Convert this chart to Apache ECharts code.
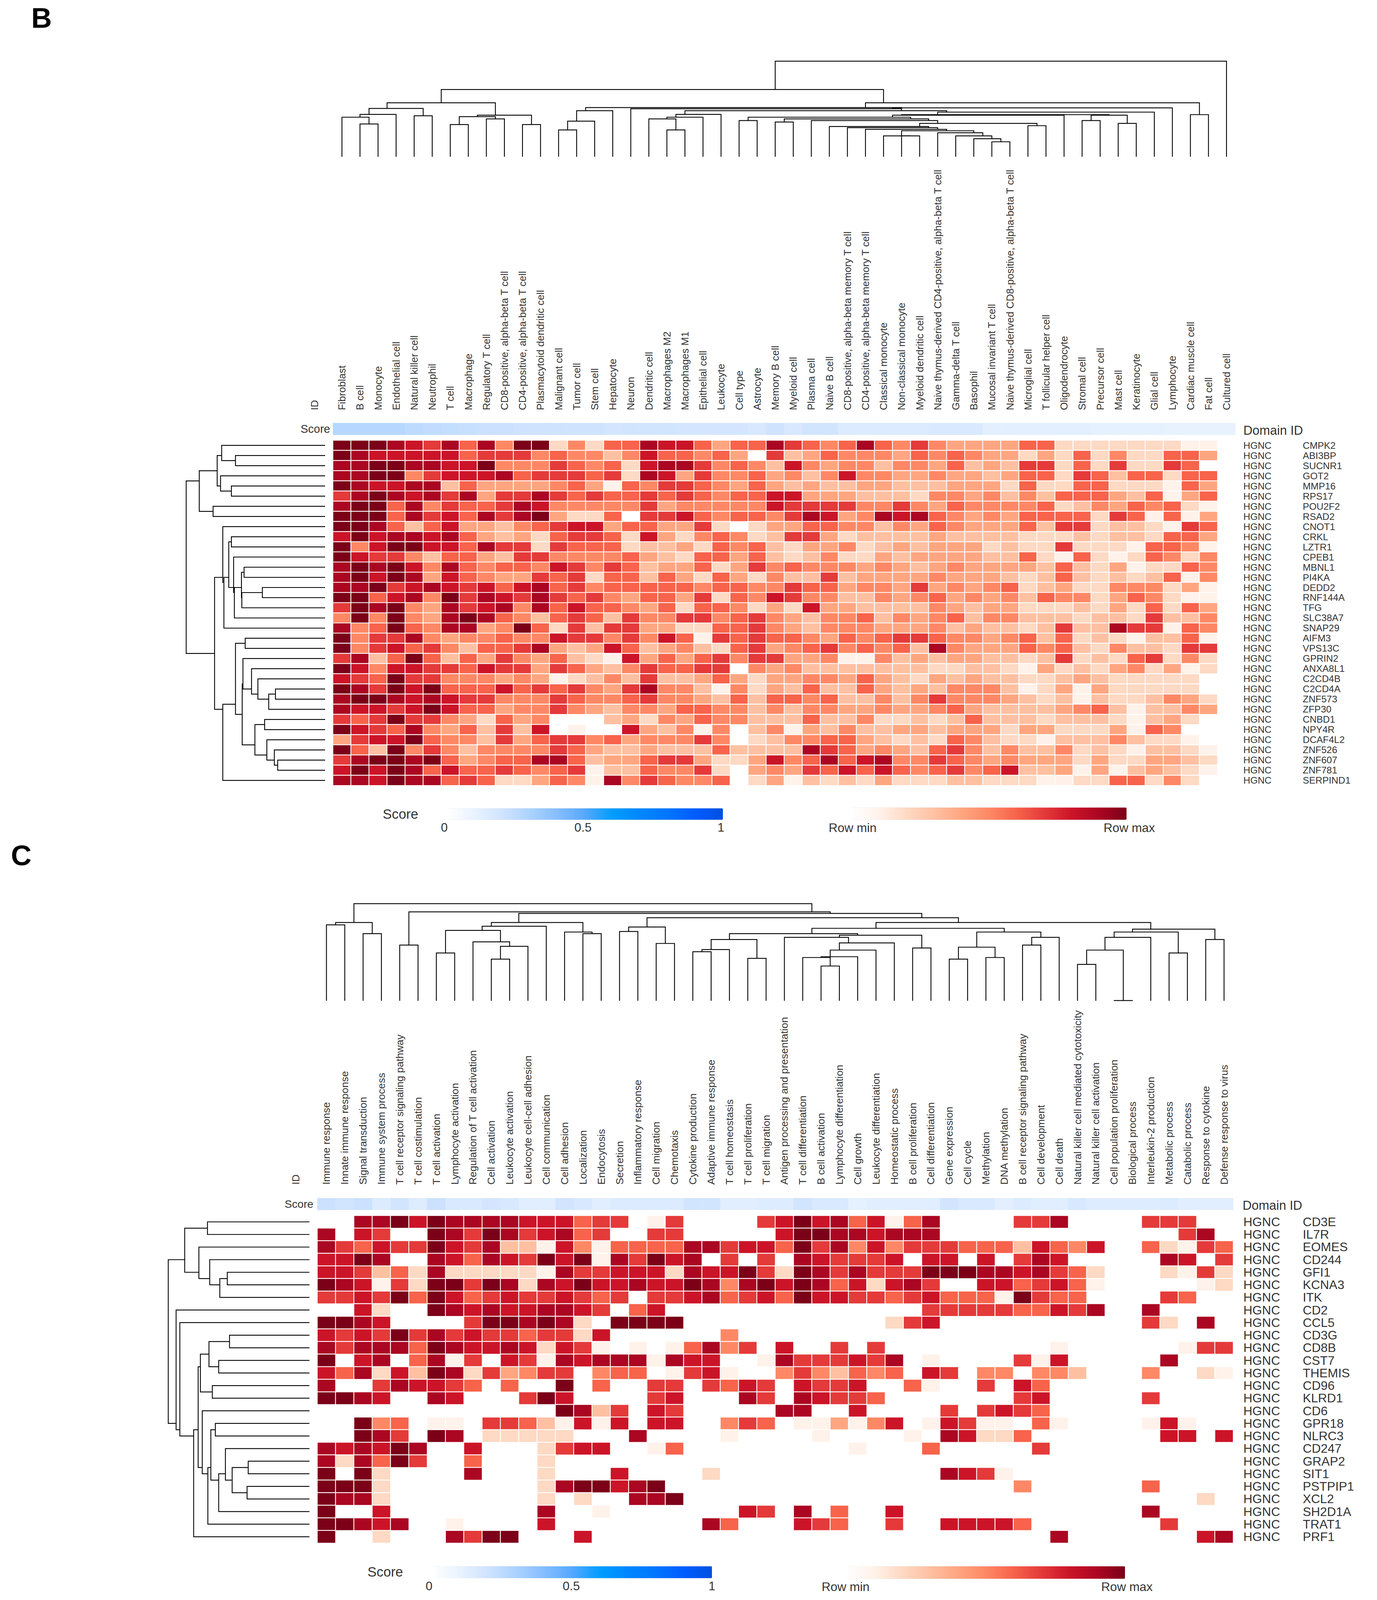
<!DOCTYPE html>
<html>
<head>
<meta charset="utf-8">
<title>Clustered heatmaps B and C</title>
<script src="https://cdn.jsdelivr.net/npm/echarts@6/dist/echarts.min.js"></script>
<style>
  html, body { margin: 0; padding: 0; background: #fff; overflow: hidden; }
  #chart { width: 3524px; height: 5960px; }
</style>
</head>
<body>
<div id="chart"></div>
<script>
// panel B labels
const columnsB = ["Fibroblast", "B cell", "Monocyte", "Endothelial cell", "Natural killer cell", "Neutrophil", "T cell", "Macrophage", "Regulatory T cell", "CD8-positive, alpha-beta T cell", "CD4-positive, alpha-beta T cell", "Plasmacytoid dendritic cell", "Malignant cell", "Tumor cell", "Stem cell", "Hepatocyte", "Neuron", "Dendritic cell", "Macrophages M2", "Macrophages M1", "Epithelial cell", "Leukocyte", "Cell type", "Astrocyte", "Memory B cell", "Myeloid cell", "Plasma cell", "Naive B cell", "CD8-positive, alpha-beta memory T cell", "CD4-positive, alpha-beta memory T cell", "Classical monocyte", "Non-classical monocyte", "Myeloid dendritic cell", "Naive thymus-derived CD4-positive, alpha-beta T cell", "Gamma-delta T cell", "Basophil", "Mucosal invariant T cell", "Naive thymus-derived CD8-positive, alpha-beta T cell", "Microglial cell", "T follicular helper cell", "Oligodendrocyte", "Stromal cell", "Precursor cell", "Mast cell", "Keratinocyte", "Glial cell", "Lymphocyte", "Cardiac muscle cell", "Fat cell", "Cultured cell"];
const genesB = ["CMPK2", "ABI3BP", "SUCNR1", "GOT2", "MMP16", "RPS17", "POU2F2", "RSAD2", "CNOT1", "CRKL", "LZTR1", "CPEB1", "MBNL1", "PI4KA", "DEDD2", "RNF144A", "TFG", "SLC38A7", "SNAP29", "AIFM3", "VPS13C", "GPRIN2", "ANXA8L1", "C2CD4B", "C2CD4A", "ZNF573", "ZFP30", "CNBD1", "NPY4R", "DCAF4L2", "ZNF526", "ZNF607", "ZNF781", "SERPIND1"];
const scoresB = [.27,.27,.27,.27,.25,.24,.23,.22,.21,.21, .2,.2,.2,.2,.2,.18,.19,.19,.19,.18, .18,.18,.18,.17,.2,.165,.19,.19,.15,.15, .15,.15,.15,.16,.16,.16,.12,.12,.12,.12, .12,.12,.11,.11,.11,.11,.1,.1,.1,.1];

// panel B cells, colour level 0 (row min, blank) to 10 (row max), one list per gene
const valuesB = [
  [10,10,10,9,8,7,9,6,9,5,10,10,2,5,2,6,6,9,8,8,6,4,6, 6,9,7,6,5,6,9,6,5,7,5,4,4,4,4,6,6,2,2,2,2,2,2,2,1,1],
  [10,9,8,8,8,8,8,6,7,7,7,5,6,5,5,3,5,8,6,6,5,6,4, 0,7,3,4,6,5,5,5,4,6,5,6,5,4,4,2,4,2,6,2,5,2,2,6,6,4],
  [9,9,10,10,9,9,8,8,10,5,5,5,7,6,5,6,2,8,9,9,7,5,6, 5,3,8,5,4,5,5,3,5,5,4,6,3,4,3,7,7,2,6,2,7,2,2,7,6,0],
  [9,9,10,10,5,7,8,8,8,9,6,7,7,7,6,7,2,9,8,4,7,5,5, 6,4,5,3,5,8,5,5,4,4,5,4,4,3,4,6,6,2,7,6,3,6,6,2,6,6],
  [10,9,8,8,9,9,3,6,4,4,4,4,5,6,4,1,6,5,7,7,6,5,4, 6,4,3,4,3,3,4,4,3,3,3,4,4,4,2,6,2,2,6,6,2,2,2,1,6,4],
  [7,9,10,9,8,9,7,9,4,7,7,9,7,6,7,6,6,7,6,7,6,5,6, 6,8,8,4,4,4,3,3,3,2,5,5,4,5,3,5,3,6,6,6,4,3,6,1,4,6],
  [9,10,10,6,9,5,7,6,6,7,9,8,5,5,5,5,5,7,4,5,5,5,5, 5,8,7,7,7,7,5,5,7,5,4,6,5,5,5,5,6,2,3,5,4,6,5,6,2,1],
  [10,10,10,6,9,7,8,6,9,7,9,10,4,2,2,6,0,7,7,8,6,5,6, 6,5,7,9,8,4,5,9,8,9,6,5,4,5,4,6,6,6,6,2,7,6,1,6,1,4],
  [10,10,9,6,3,6,8,4,4,3,5,6,7,8,8,4,6,6,4,4,7,2,0, 2,4,4,6,6,5,5,3,5,4,6,5,4,4,4,6,3,7,7,2,3,3,2,1,7,6],
  [8,10,8,9,9,8,9,6,4,3,4,2,6,7,7,6,2,8,4,2,5,6,5, 2,3,7,7,4,2,3,3,3,3,4,3,3,3,3,2,2,2,3,2,3,3,2,6,6,4],
  [10,5,8,10,10,8,8,6,9,7,7,2,7,6,6,6,2,3,3,4,2,6,5, 6,3,2,4,4,5,2,3,4,3,4,4,4,2,3,2,2,7,2,2,2,1,6,6,5,1],
  [10,8,7,7,5,3,6,6,4,3,7,7,5,5,5,5,6,4,3,2,6,6,4, 6,3,2,3,5,2,2,4,3,4,4,4,4,3,3,6,2,1,6,2,1,2,6,5,2,5],
  [9,10,9,10,8,5,9,6,5,6,6,5,8,7,5,7,6,3,4,4,6,2,4, 7,5,6,5,5,5,4,5,4,3,4,5,4,4,4,4,3,6,3,2,4,1,2,2,6,5],
  [9,10,8,10,9,4,8,6,5,4,4,7,6,7,2,6,6,3,6,4,2,6,4, 2,5,3,3,7,3,4,4,4,4,5,4,4,4,3,2,3,6,3,2,3,2,3,6,1,5],
  [9,9,10,7,8,9,8,7,8,6,8,9,6,7,5,6,6,6,6,6,5,6,6, 5,5,7,6,6,4,5,5,4,7,4,5,4,5,6,2,3,4,2,2,5,5,5,2,4,1],
  [10,10,6,8,9,5,10,7,9,8,7,9,7,6,7,5,4,6,6,4,7,2,6, 5,8,7,5,5,3,3,5,4,5,6,4,5,4,5,3,6,5,5,2,4,6,5,2,1,1],
  [7,10,9,10,5,4,9,7,8,9,5,9,6,8,6,6,5,4,6,2,6,6,5, 2,4,2,8,4,4,3,3,3,3,5,4,3,4,4,2,2,2,3,2,4,2,6,2,6,4],
  [5,10,5,10,5,4,9,10,9,6,5,3,6,7,6,3,7,5,5,7,7,5,6, 7,5,4,3,5,5,6,3,5,4,5,6,3,5,5,3,3,3,2,3,3,2,7,3,3,5],
  [9,5,6,10,6,5,9,9,4,5,10,6,2,7,3,7,7,4,4,2,2,6,6, 7,5,4,3,5,5,5,4,4,4,5,3,4,3,3,2,3,7,3,3,9,7,7,1,6,5],
  [10,5,7,7,9,5,4,5,5,6,5,5,8,7,7,5,7,5,8,6,1,7,6, 7,6,6,5,4,6,5,6,7,7,6,5,5,4,5,6,3,6,2,3,2,1,3,3,6,1],
  [10,5,7,8,6,7,5,3,6,6,7,9,4,3,4,8,6,3,4,5,3,2,6, 7,4,5,6,7,5,6,5,6,3,9,5,4,4,4,6,5,6,3,2,5,3,3,2,7,7],
  [7,9,3,6,10,6,3,6,4,7,5,4,6,3,2,1,8,4,6,4,6,7,5, 7,7,4,4,5,1,1,5,3,4,3,4,4,3,3,2,3,7,2,3,2,6,7,2,5,2],
  [10,8,5,8,8,7,7,6,8,7,7,4,7,6,4,3,5,7,6,6,7,7,0, 5,4,5,3,3,3,3,3,3,3,2,2,3,3,2,1,4,2,3,2,4,5,2,4,1,2],
  [8,7,6,10,7,7,5,5,5,4,5,4,1,2,3,5,3,7,3,3,4,6,4, 2,4,4,5,5,4,6,4,3,2,4,3,4,3,3,2,2,3,4,3,2,2,2,2,2,0],
  [10,9,7,10,8,10,6,6,6,8,6,7,6,7,5,4,7,9,5,5,3,1,5, 2,4,3,6,3,3,6,4,3,4,3,5,5,5,3,1,2,4,1,4,2,2,2,2,2,0],
  [9,10,10,9,8,9,8,7,7,5,5,5,7,6,5,5,6,7,5,5,4,3,6, 3,6,6,5,6,3,3,5,3,5,7,5,5,5,4,3,2,3,1,3,2,2,3,5,4,2],
  [9,8,8,7,8,10,8,6,6,4,5,5,7,5,4,3,5,5,4,6,6,5,5, 3,5,3,5,5,4,4,5,4,4,5,6,4,3,3,3,3,4,5,6,3,1,3,3,5,4],
  [7,6,7,10,7,7,5,4,2,6,4,5,0,0,0,3,4,2,5,4,6,5,5, 3,3,3,6,3,3,5,2,2,3,2,3,6,3,3,3,2,3,3,3,2,1,3,4,2,0],
  [10,8,7,6,9,5,4,6,3,7,3,8,0,1,0,0,8,4,3,5,1,5,0, 3,5,1,4,3,5,3,3,4,4,3,4,4,4,2,4,4,2,2,2,4,1,6,5,0,0],
  [4,7,8,8,10,6,5,5,3,7,4,6,7,7,5,6,4,5,5,5,7,5,0, 2,3,5,5,6,6,4,3,2,3,2,6,5,3,2,2,1,3,3,3,5,3,2,2,1,0],
  [10,6,3,10,5,7,5,3,5,5,5,5,7,6,4,3,3,4,3,3,3,6,3, 3,3,3,9,7,6,4,5,4,3,6,7,5,3,5,3,3,5,2,3,2,1,3,3,2,1],
  [7,9,10,10,9,10,6,4,5,6,6,9,9,6,3,4,4,6,7,7,4,2,2, 4,8,5,6,9,6,8,9,5,5,7,6,5,4,5,4,4,4,2,4,2,2,4,4,3,2],
  [8,10,8,10,9,6,8,6,6,7,6,5,6,7,1,3,3,6,5,5,7,2,0, 4,5,4,7,6,8,6,8,6,5,6,7,5,6,8,3,3,4,1,4,1,3,4,3,2,1],
  [9,9,8,10,9,9,6,7,6,2,2,4,6,5,1,9,5,7,6,5,5,6,0, 2,4,1,3,2,3,2,4,2,2,2,3,3,2,2,2,1,1,2,2,6,6,2,5,2,0]
];

// panel B dendrograms: [first leaf, last leaf of left branch, last leaf, height]
const colTreeB = [
  [0,48,49,338],[0,11,48,238],[0,5,11,191],[0,3,5,171],[0,2,3,150],[0,0,2,140],[1,1,2,116],[4,4,5,145],
  [6,9,11,147],[6,7,9,142],[6,6,7,114],[8,8,9,134],[10,10,11,114],[12,46,48,191],[47,47,48,149],
  [12,15,46,174],[12,14,15,163],[12,13,14,126],[12,12,13,95],
  [16,45,46,173],[16,16,45,170],[17,21,45,163],[17,20,21,150],[17,19,20,140],[17,17,19,134],[18,18,19,95],
  [22,44,45,158],[22,40,44,149],[41,42,44,147],[41,41,42,128],[43,43,44,118],[22,39,40,147],[22,23,39,140],[22,22,23,128],
  [24,25,39,134],[24,24,25,123],[26,26,39,128],[27,37,39,118],[38,38,39,110],[27,27,37,107],[28,28,37,103],[29,29,37,97],
  [30,32,37,92],[30,30,32,74],[31,31,32,74],[33,33,37,85],[34,34,37,74],[35,35,37,64],[36,36,37,53]
];
const rowTreeB = [
  [0,7,33,372],[0,5,7,337],[0,2,5,289],[0,0,2,277],[1,1,2,240],[3,3,5,280],[4,4,5,251],[6,6,7,300],
  [8,18,33,296],[8,8,18,274],[9,17,18,271],[9,10,17,258],[9,9,10,251],[11,11,17,245],[12,16,17,243],[12,13,16,224],[12,12,13,217],[14,15,16,223],[14,14,15,168],
  [19,32,33,274],[19,20,32,240],[19,19,20,214],[21,26,32,222],[21,21,26,220],[22,22,26,197],[23,23,26,180],[24,25,26,151],[24,24,25,133],[27,28,32,188],[27,27,28,162],[29,29,32,156],[30,30,32,136],[31,31,32,127]
];

// panel C labels
const columnsC = ["Immune response", "Innate immune response", "Signal transduction", "Immune system process", "T cell receptor signaling pathway", "T cell costimulation", "T cell activation", "Lymphocyte activation", "Regulation of T cell activation", "Cell activation", "Leukocyte activation", "Leukocyte cell-cell adhesion", "Cell communication", "Cell adhesion", "Localization", "Endocytosis", "Secretion", "Inflammatory response", "Cell migration", "Chemotaxis", "Cytokine production", "Adaptive immune response", "T cell homeostasis", "T cell proliferation", "T cell migration", "Antigen processing and presentation", "T cell differentiation", "B cell activation", "Lymphocyte differentiation", "Cell growth", "Leukocyte differentiation", "Homeostatic process", "B cell proliferation", "Cell differentiation", "Gene expression", "Cell cycle", "Methylation", "DNA methylation", "B cell receptor signaling pathway", "Cell development", "Cell death", "Natural killer cell mediated cytotoxicity", "Natural killer cell activation", "Cell population proliferation", "Biological process", "Interleukin-2 production", "Metabolic process", "Catabolic process", "Response to cytokine", "Defense response to virus"];
const genesC = ["CD3E", "IL7R", "EOMES", "CD244", "GFI1", "KCNA3", "ITK", "CD2", "CCL5", "CD3G", "CD8B", "CST7", "THEMIS", "CD96", "KLRD1", "CD6", "GPR18", "NLRC3", "CD247", "GRAP2", "SIT1", "PSTPIP1", "XCL2", "SH2D1A", "TRAT1", "PRF1"];
const scoresC = [.21,.19,.21,.15,.19,.14,.21,.16,.16,.18, .17,.13,.13,.19,.17,.13,.15,.15,.15,.15, .19,.19,.13,.13,.14,.14,.19,.16,.16,.11, .13,.13,.13,.13,.19,.16,.16,.12,.15,.13, .13,.17,.14,.14,.14,.14,.15,.13,.13,.13];

const valuesC = [
  [0,0,9,9,10,8,10,9,9,9, 9,8,8,8,6,7,7,0,1,7, 0,0,0,0,7,8,10,8,9,6, 8,1,6,9,0,0,0,0,7,7, 9,0,0,0,0,7,7,7,0,0],
  [9,0,8,7,0,0,10,9,7,10, 9,7,8,9,6,7,0,0,7,7, 0,0,0,0,0,8,10,10,9,9, 8,9,9,9,0,0,0,0,0,0, 0,0,0,0,0,0,0,7,9,0],
  [9,7,6,8,7,7,10,8,7,9, 3,3,1,8,5,1,6,6,6,6, 9,9,7,8,8,6,10,7,9,5, 8,5,7,7,7,6,6,6,3,8, 6,5,8,0,0,6,2,1,7,6],
  [8,8,10,9,0,0,9,8,6,9, 8,7,10,8,10,1,9,7,10,8, 9,0,7,0,7,0,9,8,7,7, 7,8,0,8,8,0,8,0,7,9, 8,0,0,0,0,0,9,8,0,7],
  [8,8,7,3,6,2,9,2,2,2, 2,2,1,9,7,7,8,8,8,2, 9,8,8,10,7,2,10,9,7,9, 7,7,7,10,10,10,9,9,8,9, 7,6,2,0,0,0,2,1,7,2],
  [10,9,8,1,7,2,10,10,7,10, 9,2,9,8,10,8,8,9,8,8, 10,9,5,9,10,8,10,9,6,8, 2,8,9,7,0,0,8,8,6,7, 8,6,1,0,0,0,0,0,1,2],
  [7,7,8,7,10,6,10,8,6,7, 8,7,7,8,7,6,7,0,7,7, 8,9,6,7,8,6,10,8,8,7, 7,6,7,8,6,6,6,1,10,7, 6,6,0,0,0,0,7,6,0,0],
  [0,0,8,2,0,0,10,9,8,9, 8,8,9,9,8,7,0,6,8,0, 0,0,0,0,0,0,0,0,0,0, 0,0,0,7,7,7,7,7,6,6, 8,7,9,0,0,9,0,0,0,0],
  [10,10,9,8,0,0,0,0,7,10, 10,9,10,9,2,0,10,10,10,10, 0,0,0,0,0,0,0,0,0,0, 0,2,7,8,0,0,0,0,0,0, 0,0,0,0,0,7,2,0,9,0],
  [8,7,8,7,10,7,9,7,8,7, 7,6,7,7,2,8,0,0,0,0, 0,0,5],
  [9,7,9,9,9,6,10,9,8,8, 9,8,2,8,7,1,0,1,0,1, 6,9,5,7,0,8,0,0,7,0, 7,0,0,0,0,0,0,0,0,0, 1,0,0,0,0,0,0,1,7,7],
  [10,0,8,9,0,6,9,1,7,0, 8,7,1,9,8,9,9,9,1,9, 8,8,0,0,1,9,7,7,7,8, 7,9,0,1,0,0,0,0,7,1, 8,0,0,0,0,0,9],
  [8,6,9,2,8,3,10,9,2,7, 4,5,7,7,0,5,6,6,0,1, 7,8,1,0,0,5,7,5,3,6, 5,6,0,8,7,0,5,5,0,5, 5,3,0,0,0,5,0,0,2,1],
  [9,0,0,7,9,8,8,7,6,0, 6,0,0,10,0,6,0,0,7,7, 0,7,6,8,7,0,8,7,7,8, 0,0,6,1,0,0,7,0,8,6],
  [10,10,9,8,0,0,9,8,0,0, 0,7,10,8,0,0,0,0,7,8, 0,0,0,9,7,0,9,8,7,7, 6,0,0,0,0,0,0,0,7,8, 0,0,0,0,0,7],
  [0,0,0,0,0,0,0,0,0,0, 0,0,0,10,9,3,7,0,8,7, 0,0,0,0,0,9,9,0,0,8, 0,0,0,0,7,0,7,8,7,6],
  [0,0,10,5,6,0,1,1,0,7, 7,6,3,1,8,1,8,0,8,8, 0,0,5,7,6,0,1,1,4,1, 5,8,0,1,8,7,1,1,0,6, 1,0,0,0,0,1,8,1],
  [0,0,10,9,7,0,10,9,0,2, 2,2,2,2,0,0,0,9,0,0, 0,0,1,0,0,0,0,1,0,0, 0,0,1,0,9,8,2,2,6,0, 0,0,0,0,0,0,8,8,0,8],
  [9,8,9,8,10,9,0,0,8,0, 0,0,2,7,8,8,0,0,1,6, 0,0,0,0,0,0,0,0,0,1, 0,0,0,6,0,0,0,0,0,7],
  [9,2,9,6,10,7,0,0,6,0, 0,0,2],
  [10,0,10,2,0,0,0,0,9,0, 0,0,2,0,0,0,8,0,0,0, 0,2,0,0,0,0,0,0,0,0, 0,0,0,0,9,8,7,1],
  [10,10,10,2,0,0,0,0,0,0, 0,0,2,9,10,10,8,9,10,0, 0,0,0,0,0,0,0,0,0,0, 0,0,0,0,0,0,0,0,5,0, 0,0,0,0,0,6],
  [10,9,9,2,0,0,0,0,0,0, 0,0,2,0,2,0,0,9,9,10, 0,0,0,0,0,0,0,0,0,0, 0,0,0,0,0,0,0,0,0,0, 0,0,0,0,0,0,0,0,2],
  [10,0,0,8,0,0,0,0,0,0, 0,0,9,0,0,1,0,0,0,0, 0,0,0,8,7,0,9,0,6,0, 0,8,0,0,0,0,0,0,0,0, 0,0,0,0,0,9],
  [10,10,9,8,9,0,0,1,0,0, 0,0,8,0,0,0,0,0,0,0, 0,9,6,0,0,0,8,7,6,0, 0,7,0,0,8,8,8,8,6,0, 0,0,0,0,0,0,7],
  [10,0,0,2,0,0,0,9,7,10, 10,0,0,0,8,0,0,0,0,0, 0,0,0,0,0,0,0,0,0,0, 0,0,0,0,0,0,0,0,0,0, 9,0,0,0,0,0,0,0,8,9]
];

const colTreeC = [
  [0,3,49,366],[0,1,3,295],[0,0,1,286],[2,2,3,253],[4,5,49,335],[4,4,5,210],[6,15,49,329],[6,12,15,295],[13,13,15,259],[14,14,15,253],
  [6,11,12,281],[6,7,11,265],[6,6,7,180],[8,8,11,222],[9,10,11,205],[9,9,10,157],[16,19,49,313],[16,17,19,278],[16,16,17,261],[18,18,19,216],
  [20,40,49,295],[20,33,40,273],[20,24,33,253],[20,22,24,231],[23,23,24,160],[20,21,22,193],[20,20,21,185],[25,31,33,247],[32,32,33,199],[25,25,31,239],
  [26,30,31,218],[26,29,30,191],[26,28,29,166],[26,26,28,163],[27,27,28,131],[34,37,40,259],[34,35,37,202],[34,34,35,157],[36,36,37,163],[38,39,40,239],[38,38,39,210],
  [41,47,49,270],[48,48,49,231],[41,45,47,259],[46,46,47,180],[41,44,45,239],[41,42,44,191],[41,41,42,137],[43,43,44,1]
];
const rowTreeC = [
  [0,6,25,378],[0,1,6,334],[0,0,1,273],[2,2,6,296],[3,3,6,267],[4,5,6,240],[4,4,5,220],
  [7,7,25,357],[8,8,25,347],[9,24,25,310],[9,14,24,298],[9,12,14,292],[13,13,14,260],[9,10,12,269],[9,9,10,214],[11,11,12,243],
  [15,15,24,287],[16,23,24,272],[16,17,23,264],[16,16,17,252],[18,22,23,243],[18,18,22,225],[19,20,22,207],[19,19,20,164],[21,21,22,167]
];

const scoreTicks = ["0", "0.5", "1"];
const heatColors = ["#ffffff", "#fff2ea", "#fed9c3", "#ffc0a2", "#ffa681", "#fe8865", "#f7634b", "#e43a3a", "#cc1428", "#ab0622", "#7b0018"];
const scoreColors = ["#ffffff", "#e8f2ff", "#cfe3ff", "#abd2ff", "#85bdff", "#55a8ff", "#009dff", "#0086ff", "#0075ff", "#005cff", "#0050e0"];

const FONT = "Liberation Sans, Arial, sans-serif";
const TEXT = "#333333";

// the browser caps the window height, so the 5960 px layout is squeezed to what is really visible
const DESIGN_HEIGHT = 5960;
const viewHeight = Math.min(window.innerHeight || DESIGN_HEIGHT, DESIGN_HEIGHT);
const ky = viewHeight / DESIGN_HEIGHT;
const Y = (v) => v * ky;
const F = (size) => size * Math.sqrt(ky);

const grid = [], xAxis = [], yAxis = [], series = [], visualMap = [], graphic = [];

// one polyline per merge, the branch sits at the mean of its leaves
function treeLinks(tree) {
  const heights = {};
  tree.forEach(([a, , b, h]) => { heights[a + "-" + b] = h; });
  const h = (a, b) => (a === b ? 0 : heights[a + "-" + b]);
  return tree.map(([a, m, b, top]) => [(a + m) / 2, (m + 1 + b) / 2, h(a, m), h(m + 1, b), top]);
}

function addGrid(rect, x, y) {
  grid.push(rect);
  const i = grid.length - 1;
  xAxis.push({ gridIndex: i, ...x });
  yAxis.push({ gridIndex: i, ...y });
  return i;
}

function addTree(rect, tree, horizontal, maxH, leaves) {
  const dist = { type: "value", min: 0, max: maxH, show: false };
  const pos = { type: "value", min: -0.5, max: leaves - 0.5, show: false };
  const i = horizontal
    ? addGrid(rect, { ...dist, inverse: true }, { ...pos, inverse: true })
    : addGrid(rect, pos, dist);
  series.push({
    type: "custom",
    xAxisIndex: i,
    yAxisIndex: i,
    clip: false,
    silent: true,
    encode: horizontal ? { x: [2, 3, 4], y: [0, 1] } : { x: [0, 1], y: [2, 3, 4] },
    data: treeLinks(tree),
    renderItem: (params, api) => {
      const p1 = api.value(0), p2 = api.value(1), h1 = api.value(2), h2 = api.value(3), top = api.value(4);
      const pts = [[p1, h1], [p1, top], [p2, top], [p2, h2]];
      return {
        type: "polyline",
        shape: { points: pts.map((p) => api.coord(horizontal ? [p[1], p[0]] : p)) },
        style: { stroke: "#000", fill: null, lineWidth: 2.2 },
      };
    },
  });
}

function addText(text, x, y, size, extra) {
  graphic.push({
    type: "text",
    x,
    y: Y(y),
    rotation: extra && extra.rotation || 0,
    silent: true,
    style: {
      text,
      fontSize: size,
      fontFamily: FONT,
      fontWeight: extra && extra.weight || "normal",
      fill: extra && extra.fill || TEXT,
      textAlign: extra && extra.align || "left",
      textVerticalAlign: "middle",
    },
  });
}

function addPanel(p) {
  const hide = { axisLine: { show: false }, axisTick: { show: false }, splitLine: { show: false } };
  const colFont = p.colFont * ky;

  // score strip carries the column labels
  const s = addGrid(
    { left: p.left, top: Y(p.scoreTop), width: p.width, height: Y(p.scoreHeight) },
    {
      type: "category", data: p.columns, position: "top", ...hide,
      axisLabel: { interval: 0, rotate: -90, margin: Y(p.labelMargin), fontSize: colFont, fontFamily: FONT, color: TEXT, hideOverlap: false },
    },
    {
      type: "category", data: ["Score"], ...hide,
      axisLabel: { margin: p.scoreMargin, fontSize: F(p.scoreFont), fontFamily: FONT, color: TEXT },
    }
  );
  series.push({
    type: "heatmap", xAxisIndex: s, yAxisIndex: s, silent: true,
    data: p.scores.map((v, i) => [i, 0, v]),
  });
  const scoreSeries = series.length - 1;

  // gene cells
  const h = addGrid(
    { left: p.left, top: Y(p.heatTop), width: p.width, height: Y(p.heatHeight) },
    { type: "category", data: p.columns, show: false },
    {
      type: "category", data: p.genes, inverse: true, position: "right", ...hide,
      axisLabel: {
        interval: 0, margin: p.geneMargin, align: "left",
        formatter: (g) => "{a|HGNC}{b|" + g + "}",
        rich: {
          a: { width: 152, fontSize: F(p.geneFont), fontFamily: FONT, color: TEXT },
          b: { fontSize: F(p.geneFont), fontFamily: FONT, color: TEXT },
        },
      },
    }
  );
  const cells = [];
  p.values.forEach((row, r) => row.forEach((v, c) => { if (v > 0) cells.push([c, r, v]); }));
  series.push({
    type: "heatmap", xAxisIndex: h, yAxisIndex: h, silent: true, data: cells,
    itemStyle: { borderColor: "#fff", borderWidth: 2.2 },
  });
  const heatSeries = series.length - 1;

  addTree({ left: p.left, top: Y(p.colTreeTop), width: p.width, height: Y(p.colTreeHeight) }, p.colTree, false, p.colTreeMax, p.columns.length);
  addTree({ left: p.rowTreeLeft, top: Y(p.heatTop), width: p.rowTreeWidth, height: Y(p.heatHeight) }, p.rowTree, true, p.rowTreeMax, p.genes.length);

  // legends
  visualMap.push({
    type: "continuous", seriesIndex: scoreSeries, dimension: 2, min: 0, max: 1, orient: "horizontal",
    left: p.scoreBar[0], top: Y(p.scoreBar[1]), itemHeight: p.scoreBar[2], itemWidth: Y(p.scoreBar[3]),
    padding: 0, calculable: false, showLabel: false, hoverLink: false, text: null, textStyle: { fontSize: 0 },
    inRange: { color: scoreColors },
  });
  visualMap.push({
    type: "continuous", seriesIndex: heatSeries, dimension: 2, min: 0, max: 10, orient: "horizontal",
    left: p.heatBar[0], top: Y(p.heatBar[1]), itemHeight: p.heatBar[2], itemWidth: Y(p.heatBar[3]),
    padding: 0, calculable: false, showLabel: false, hoverLink: false, text: null, textStyle: { fontSize: 0 },
    inRange: { color: heatColors },
  });

  addText(p.letter, p.letterPos[0], p.letterPos[1], F(88), { weight: "bold", fill: "#000" });
  addText("ID", p.idPos[0], p.idPos[1], colFont, { rotation: Math.PI / 2 });
  addText("Domain ID", p.domainPos[0], p.domainPos[1], F(39));
  addText("Score", p.legendScore[0], p.legendScore[1], F(42), { align: "center" });
  scoreTicks.forEach((t, i) => addText(t, p.tickX[i], p.tickY, F(38), { align: "center" }));
  addText("Row min", p.rowMin[0], p.rowMin[1], F(38), { align: "center" });
  addText("Row max", p.rowMax[0], p.rowMax[1], F(38), { align: "center" });
}

addPanel({
  letter: "B", letterPos: [80, 66],
  columns: columnsB, genes: genesB, scores: scoresB, values: valuesB, colTree: colTreeB, rowTree: rowTreeB,
  left: 852, width: 2310,
  scoreTop: 1576, scoreHeight: 44, labelMargin: 48, colFont: 38, scoreMargin: 7, scoreFont: 35,
  heatTop: 1640, heatHeight: 1286, geneFont: 29.5, geneMargin: 20,
  colTreeTop: 228, colTreeHeight: 356, colTreeMax: 338,
  rowTreeLeft: 476.5, rowTreeWidth: 355.5, rowTreeMax: 372,
  idPos: [805, 1528], domainPos: [3182, 1604],
  scoreBar: [1146, 3011, 704, 43], heatBar: [2180, 3008, 703, 46],
  legendScore: [1025, 3031], tickX: [1137, 1492, 1845], tickY: 3082,
  rowMin: [2182, 3083], rowMax: [2890, 3083],
});

addPanel({
  letter: "C", letterPos: [28, 3186],
  columns: columnsC, genes: genesC, scores: scoresC, values: valuesC, colTree: colTreeC, rowTree: rowTreeC,
  left: 812, width: 2344,
  scoreTop: 4463, scoreHeight: 44, labelMargin: 50, colFont: 38.5, scoreMargin: 10, scoreFont: 34,
  heatTop: 4528, heatHeight: 1220, geneFont: 38.5, geneMargin: 26,
  colTreeTop: 3366, colTreeHeight: 362, colTreeMax: 366,
  rowTreeLeft: 430.6, rowTreeWidth: 361.4, rowTreeMax: 378,
  idPos: [757, 4413], domainPos: [3180, 4491],
  scoreBar: [1106, 5834, 716, 45], heatBar: [2164, 5834, 715, 47],
  legendScore: [986, 5854], tickX: [1098, 1462, 1822], tickY: 5907,
  rowMin: [2164, 5910], rowMax: [2884, 5910],
});

const dom = document.getElementById("chart");
dom.style.height = viewHeight + "px";
const chart = echarts.init(dom, null, { renderer: "svg" });
chart.setOption({
  animation: false,
  backgroundColor: "#fff",
  tooltip: { show: false },
  grid, xAxis, yAxis, series, visualMap, graphic,
});
</script>
</body>
</html>
